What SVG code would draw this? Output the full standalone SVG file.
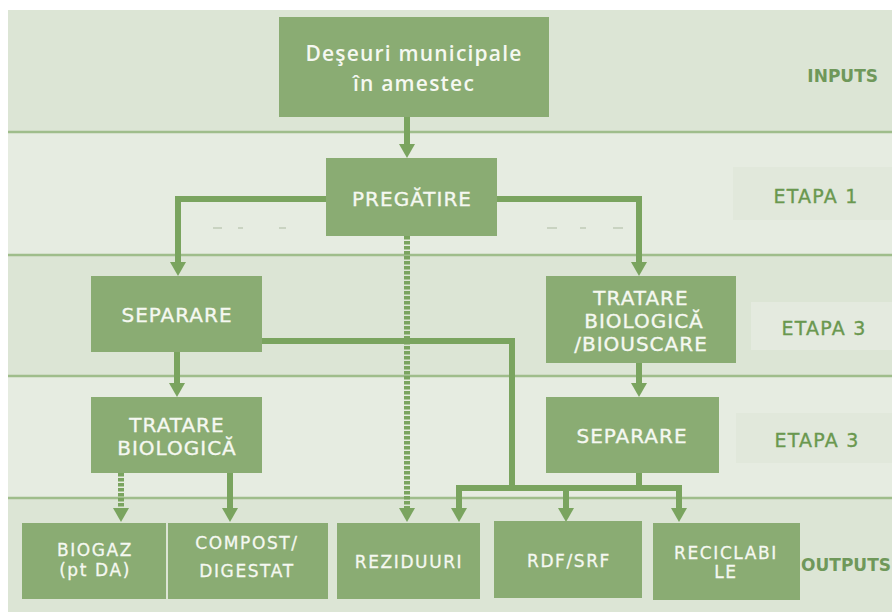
<svg xmlns="http://www.w3.org/2000/svg" width="892" height="612" viewBox="0 0 892 612">
<defs>
<style>
.bd{fill:#dce5d5}
.bl{fill:#e6ece1}
.sep{stroke:#9fbd8b;stroke-width:2.5}
.lbox{fill:#e1e8db}
.lbox2{fill:#e4eadf}
.node{fill:#8aac73}
.nt{font-family:"DejaVu Sans",Verdana,sans-serif;font-size:20px;fill:#f5f8f1;stroke:#f5f8f1;stroke-width:0.35px;text-anchor:middle;letter-spacing:1px}
.nts{font-family:"DejaVu Sans",Verdana,sans-serif;font-size:17px;fill:#f5f8f1;stroke:#f5f8f1;stroke-width:0.3px;text-anchor:middle;letter-spacing:1.6px}
.top{font-family:"Open Sans","DejaVu Sans",sans-serif;font-weight:600;font-size:21px;fill:#f5f8f1;text-anchor:middle;letter-spacing:1.2px}
.lab{font-family:"DejaVu Sans",Verdana,sans-serif;font-size:19px;fill:#6a984f;stroke:#6a984f;stroke-width:0.35px;text-anchor:middle;letter-spacing:1.2px}
.labb{font-family:"DejaVu Sans",Verdana,sans-serif;font-weight:bold;font-size:17px;fill:#6f985a}
.c{fill:none;stroke:#7aa45f;stroke-width:6;stroke-linejoin:miter}
.d{stroke-dasharray:3.5 1.5}
.faint{stroke:#c9d3c1;stroke-width:2}
</style>
<marker id="ah" viewBox="0 0 14 16" markerUnits="userSpaceOnUse" markerWidth="14" markerHeight="16" refX="6" refY="8" orient="auto">
<path d="M0,0 L14,8 L0,16 z" fill="#7aa45f"/>
</marker>
</defs>
<rect width="892" height="612" fill="#ffffff"/>
<g id="bands">
<rect class="bd" x="8" y="10" width="884" height="122"/>
<rect class="bl" x="8" y="132" width="884" height="123"/>
<rect class="bd" x="8" y="255" width="884" height="121"/>
<rect class="bl" x="8" y="376" width="884" height="122"/>
<rect class="bd" x="8" y="498" width="884" height="114"/>
<line class="sep" x1="8" y1="132" x2="892" y2="132"/>
<line class="sep" x1="8" y1="255" x2="892" y2="255"/>
<line class="sep" x1="8" y1="376" x2="892" y2="376"/>
<line class="sep" x1="8" y1="498" x2="892" y2="498"/>
<line class="faint" x1="213" y1="228" x2="222" y2="228"/>
<line class="faint" x1="238" y1="228" x2="243" y2="228"/>
<line class="faint" x1="279" y1="228" x2="286" y2="228"/>
<line class="faint" x1="547" y1="228" x2="557" y2="228"/>
<line class="faint" x1="580" y1="228" x2="586" y2="228"/>
<line class="faint" x1="613" y1="228" x2="623" y2="228"/>
</g>
<g id="labels">
<text class="labb" x="878" y="82" text-anchor="end">INPUTS</text>
<rect class="lbox" x="733" y="167" width="159" height="53"/>
<text class="lab" x="816" y="203">ETAPA 1</text>
<rect class="lbox2" x="751" y="302" width="141" height="48"/>
<text class="lab" x="824" y="335">ETAPA 3</text>
<rect class="lbox" x="736" y="413" width="156" height="50"/>
<text class="lab" x="817" y="447">ETAPA 3</text>
<text class="labb" x="891" y="571" text-anchor="end" font-size="18">OUTPUTS</text>
</g>
<g id="connectors">
<path class="c" d="M407,117 V150" marker-end="url(#ah)"/>
<path class="c" d="M326,199 H178 V268" marker-end="url(#ah)"/>
<path class="c" d="M497,199 H639 V268" marker-end="url(#ah)"/>
<path class="c d" d="M407,236 V514" marker-end="url(#ah)"/>
<path class="c" d="M177,352 V389" marker-end="url(#ah)"/>
<path class="c" d="M262,341 H512 V488"/>
<path class="c" d="M639,363 V389" marker-end="url(#ah)"/>
<path class="c" d="M639,473 V488"/>
<path class="c" d="M456,488 H682"/>
<path class="c" d="M459,486 V514" marker-end="url(#ah)"/>
<path class="c" d="M566,486 V514" marker-end="url(#ah)"/>
<path class="c" d="M679,486 V514" marker-end="url(#ah)"/>
<path class="c d" d="M121,473 V514" marker-end="url(#ah)"/>
<path class="c" d="M230,473 V514" marker-end="url(#ah)"/>
</g>
<g id="n-deseuri">
<rect class="node" x="279" y="17" width="270" height="100"/>
<text class="top" x="414" y="61">Deşeuri municipale</text>
<text class="top" x="414" y="91">în amestec</text>
</g>
<g id="n-pregatire">
<rect class="node" x="326" y="158" width="171" height="78"/>
<text class="nt" x="412" y="206">PREGĂTIRE</text>
</g>
<g id="n-separare1">
<rect class="node" x="91" y="276" width="171" height="76"/>
<text class="nt" x="177" y="322">SEPARARE</text>
</g>
<g id="n-tratare-biouscare">
<rect class="node" x="546" y="276" width="190" height="87"/>
<text class="nt" x="641" y="305">TRATARE</text>
<text class="nt" x="644" y="328">BIOLOGICĂ</text>
<text class="nt" x="641" y="351">/BIOUSCARE</text>
</g>
<g id="n-tratare1">
<rect class="node" x="91" y="397" width="171" height="76"/>
<text class="nt" x="177" y="432">TRATARE</text>
<text class="nt" x="177" y="455">BIOLOGICĂ</text>
</g>
<g id="n-separare2">
<rect class="node" x="546" y="397" width="173" height="76"/>
<text class="nt" x="632" y="443">SEPARARE</text>
</g>
<g id="n-biogaz">
<rect class="node" x="22" y="523" width="144" height="76"/>
<text class="nts" x="95" y="556">BIOGAZ</text>
<text class="nts" x="95" y="576">(pt DA)</text>
</g>
<g id="n-compost">
<rect class="node" x="168" y="523" width="160" height="76"/>
<text class="nts" x="247" y="549">COMPOST/</text>
<text class="nts" x="247" y="577">DIGESTAT</text>
</g>
<g id="n-reziduuri">
<rect class="node" x="337" y="523" width="143" height="76"/>
<text class="nts" x="409" y="568" letter-spacing="1.2">REZIDUURI</text>
</g>
<g id="n-rdf">
<rect class="node" x="494" y="521" width="148" height="77"/>
<text class="nts" x="569" y="567">RDF/SRF</text>
</g>
<g id="n-reciclabile">
<rect class="node" x="653" y="523" width="147" height="77"/>
<text class="nts" x="726" y="559" letter-spacing="1.2">RECICLABI</text>
<text class="nts" x="726" y="578">LE</text>
</g>
</svg>
